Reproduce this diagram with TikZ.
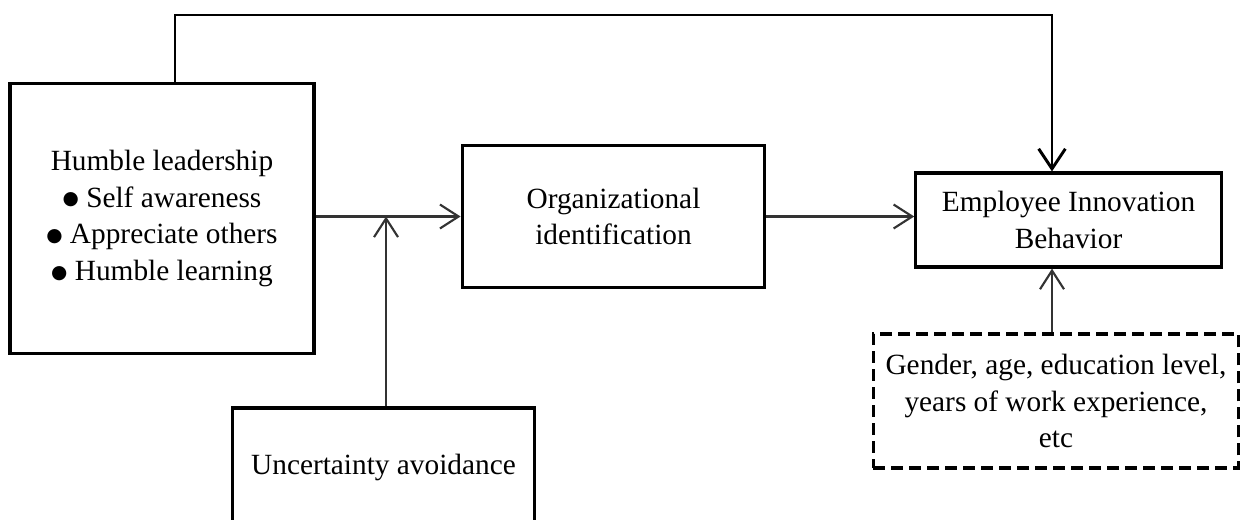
\documentclass[tikz,border=0pt]{standalone}
\usepackage{fontspec}
\setmainfont{Liberation Serif}
\newfontfamily\symfont{DejaVu Sans}
\usetikzlibrary{arrows.meta}
\newcommand{\bul}{\raisebox{1.8pt}{\symfont\fontsize{14pt}{14pt}\selectfont ●}\ }

\begin{document}
\begin{tikzpicture}[x=0.75pt, y=-0.75pt, every node/.style={rectangle, draw, line width=2.4pt, align=center, inner sep=0pt, font=\fontsize{22pt}{27.5pt}\selectfont}]
	\tikzstyle{link}=[draw=black!80, line width=1.6pt, -{Straight Barb[length=14pt, width=18pt, line width=1.6pt]}]
	\tikzstyle{direct}=[draw=black, line width=2.2pt, -{Straight Barb[length=15pt, width=20pt, line width=2.2pt]}]
	\useasboundingbox (0,0) rectangle (1242,520);
	% variables
	\node[minimum width=228pt, minimum height=203pt] (hl) at (162,218.5)
		{Humble leadership\\ \bul Self awareness\\ \bul Appreciate others\\ \bul Humble learning};
	\node[minimum width=227pt, minimum height=107pt] (oi) at (613.5,216.5)
		{Organizational\\ identification};
	\node[minimum width=229pt, minimum height=70.5pt] (eib) at (1068.5,220)
		{Employee Innovation\\ Behavior};
	\node[minimum width=227pt, minimum height=88.5pt] (ua) at (383.5,467)
		{Uncertainty avoidance};
	\node[dashed, dash pattern=on 9pt off 4.5pt, minimum width=274pt, minimum height=100.5pt] (ctrl) at (1056,401)
		{Gender, age, education level,\\ years of work experience,\\ etc};
	% paths
	\coordinate (bend) at (1052,15);
	\draw[link] (hl.east |- oi.west) -- (oi.west);
	\draw[link] ([xshift=1.9pt]ua.north) -- ([xshift=1.9pt]ua.north |- oi.west);
	\draw[link] (oi.east) -- (oi.east -| eib.west);
	\draw[link] ([xshift=-3pt]ctrl.north) -- ([xshift=-3pt]ctrl.north |- eib.south);
	\draw[direct] ([xshift=9.75pt]hl.north) |- (bend) -- (bend |- eib.north);
\end{tikzpicture}
\end{document}
